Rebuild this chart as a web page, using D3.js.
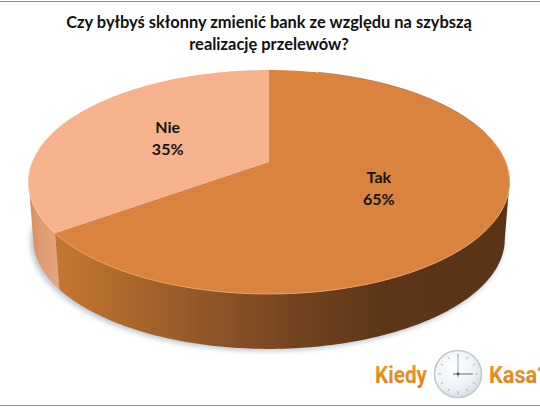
<!DOCTYPE html>
<html>
<head>
<meta charset="utf-8">
<script src="https://cdn.jsdelivr.net/npm/d3@7"></script>
<style>
html,body{margin:0;padding:0;background:#fff;overflow:hidden}
svg{display:block}
text{font-family:Lato,"Open Sans",sans-serif}
</style>
</head>
<body>
<div id="chart"></div>
<script>
const categories = ["Tak", "Nie"];
const values = [65, 35];
const titleLines = ["Czy byłbyś skłonny zmienić bank ze względu na szybszą", "realizację przelewów?"];
const logoWords = ["Kiedy", "Kasa?"];

const W = 540, H = 407;
const svg = d3.select("#chart").append("svg").attr("width", W).attr("height", H);
const defs = svg.append("defs");

// perspective projection of the pie disc
const persp = 0.1786;
function proj(a, r, o) {
  o = o || {cx: 269, cy: 162, k: 236.6, m: 108.4};
  const X = Math.sin(a) * r, Y = -Math.cos(a) * r, d = 1 - persp * Y;
  return [o.cx + o.k * X / d, o.cy + o.m * Y / d];
}
const bottomDisc = {cx: 269, cy: 219.6, k: 232, m: 106.2};
const arcPts = (a0, a1, o) => d3.range(0, 121).map(i => proj(a0 + (a1 - a0) * i / 120, 1, o));
const line = d3.line();

const slices = d3.pie().sort(null).value(d => d)(values);

// silhouette angles of the projected disc
const tangentRight = Math.acos(-persp);
const tangentLeft = 2 * Math.PI - tangentRight;

// gradients
const tg = defs.append("linearGradient").attr("id", "sideTak").attr("gradientUnits", "userSpaceOnUse")
  .attr("x1", 58).attr("x2", 510).attr("y1", 0).attr("y2", 0);
[[0, "#c47731"], [0.1, "#b56d2d"], [0.3, "#95592a"], [0.5, "#764520"], [0.72, "#5c3617"], [1, "#5a3416"]]
  .forEach(s => tg.append("stop").attr("offset", s[0]).attr("stop-color", s[1]));
const ng = defs.append("linearGradient").attr("id", "sideNie").attr("gradientUnits", "userSpaceOnUse")
  .attr("x1", 28).attr("x2", 60).attr("y1", 0).attr("y2", 0);
[[0, "#cc8d60"], [0.4, "#e09c70"], [1, "#e6a680"]]
  .forEach(s => ng.append("stop").attr("offset", s[0]).attr("stop-color", s[1]));
const blur = defs.append("filter").attr("id", "soft").attr("x", "-10%").attr("y", "-10%").attr("width", "120%").attr("height", "120%");
blur.append("feGaussianBlur").attr("stdDeviation", 2.4);
const cg = defs.append("radialGradient").attr("id", "clockFace").attr("cx", "40%").attr("cy", "35%").attr("r", "75%");
[[0, "#ffffff"], [0.6, "#eef2f6"], [1, "#cdd6e0"]]
  .forEach(s => cg.append("stop").attr("offset", s[0]).attr("stop-color", s[1]));
const lg = defs.append("linearGradient").attr("id", "logoText").attr("x1", 0).attr("x2", 0).attr("y1", 0).attr("y2", 1);
[[0, "#f0a030"], [1, "#dd7a18"]]
  .forEach(s => lg.append("stop").attr("offset", s[0]).attr("stop-color", s[1]));

// frame lines
svg.append("rect").attr("x", 0).attr("y", 1).attr("width", W).attr("height", 1).attr("fill", "#8c8c8c");
svg.append("rect").attr("x", 0).attr("y", 405).attr("width", W).attr("height", 1).attr("fill", "#8c8c8c");

// title
svg.append("g").selectAll("text").data(titleLines).join("text")
  .attr("x", 269).attr("y", (d, i) => 28 + i * 21.5)
  .attr("text-anchor", "middle").attr("font-size", 16.45).attr("font-weight", 700).attr("fill", "#111")
  .text(d => d);

// soft shadow beneath the disc
const shadowDisc = {cx: 267, cy: 222, k: 233, m: 106.2};
svg.append("path").attr("d", line(arcPts(0, 2 * Math.PI, shadowDisc)) + "Z")
  .attr("fill", "#8f9cb0").attr("opacity", 0.55).attr("filter", "url(#soft)");

// sides
const nie = slices[1], tak = slices[0];
function sidePath(a0, a1) {
  return line(arcPts(a0, a1).concat(arcPts(a0, a1, bottomDisc).reverse())) + "Z";
}
svg.append("path").attr("d", sidePath(nie.startAngle, tangentLeft)).attr("fill", "url(#sideNie)");
svg.append("path").attr("d", sidePath(tangentRight, tak.endAngle)).attr("fill", "url(#sideTak)");

// top faces
const topColors = {Tak: "#d9833e", Nie: "#f5b28d"};
slices.forEach((s, i) => {
  const pts = [proj(0, 0)].concat(arcPts(s.startAngle, s.endAngle));
  svg.append("path").attr("d", line(pts) + "Z").attr("fill", topColors[categories[i]]);
});
// rim highlights
svg.append("path").attr("d", line(arcPts(tak.startAngle + 0.25, tak.startAngle + 1.3)))
  .attr("fill", "none").attr("stroke", "#a5703f").attr("stroke-width", 0.8);
svg.append("path").attr("d", line(arcPts(tak.startAngle + 1.3, tak.endAngle)))
  .attr("fill", "none").attr("stroke", "#eaa163").attr("stroke-width", 1);
svg.append("path").attr("d", line(arcPts(nie.startAngle, nie.startAngle + 1.1)))
  .attr("fill", "none").attr("stroke", "#fbc6a6").attr("stroke-width", 1);

// labels
slices.forEach((s, i) => {
  const p = proj((s.startAngle + s.endAngle) / 2, 0.5);
  const t = svg.append("text").attr("text-anchor", "middle").attr("font-size", 16)
    .attr("font-weight", 700).attr("fill", "#141414");
  t.append("tspan").attr("x", p[0]).attr("y", p[1] - 5).text(categories[i]);
  t.append("tspan").attr("x", p[0]).attr("y", p[1] + 17).text(values[i] + "%");
});

// logo
const logo = svg.append("g");
const logoText = (s, x, len) => logo.append("text").attr("x", x).attr("y", 383)
  .style("font-family", 'Roboto,"Liberation Sans",sans-serif')
  .attr("font-size", 24).attr("font-weight", 700).attr("fill", "url(#logoText)")
  .attr("textLength", len).attr("lengthAdjust", "spacingAndGlyphs").text(s);
logoText(logoWords[0], 375, 52);
logoText(logoWords[1], 489, 59);
const ccx = 458, ccy = 374;
logo.append("circle").attr("cx", ccx).attr("cy", ccy).attr("r", 23.5)
  .attr("fill", "url(#clockFace)").attr("stroke", "#c3c9cf").attr("stroke-width", 1.6);
logo.append("g").selectAll("line").data(d3.range(12)).join("line")
  .attr("x1", d => ccx + 17 * Math.sin(d * Math.PI / 6)).attr("y1", d => ccy - 17 * Math.cos(d * Math.PI / 6))
  .attr("x2", d => ccx + 20 * Math.sin(d * Math.PI / 6)).attr("y2", d => ccy - 20 * Math.cos(d * Math.PI / 6))
  .attr("stroke", "#a0a8b0").attr("stroke-width", 0.8);
logo.append("line").attr("x1", ccx).attr("y1", ccy + 4).attr("x2", ccx).attr("y2", ccy - 20)
  .attr("stroke", "#a8b0b8").attr("stroke-width", 1);
logo.append("line").attr("x1", ccx - 5).attr("y1", ccy).attr("x2", ccx + 15).attr("y2", ccy)
  .attr("stroke", "#7c848c").attr("stroke-width", 1.2);
logo.append("circle").attr("cx", ccx).attr("cy", ccy).attr("r", 1.4).attr("fill", "#4c5258");
</script>
</body>
</html>
